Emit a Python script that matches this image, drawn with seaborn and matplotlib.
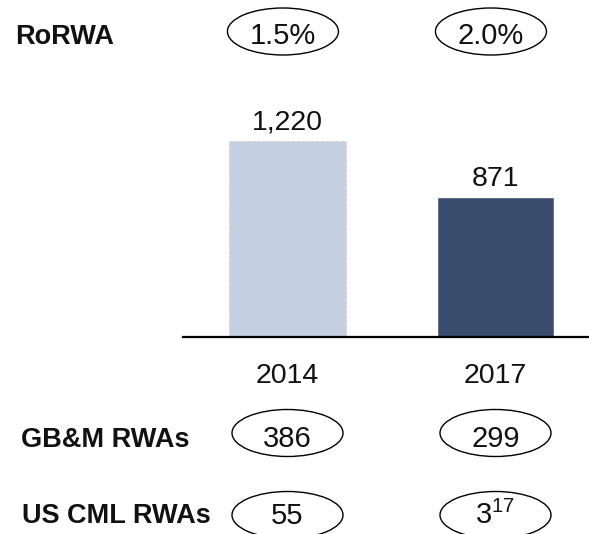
import matplotlib
matplotlib.use('Agg')
import matplotlib.pyplot as plt
import matplotlib.transforms as mtransforms
from matplotlib.patches import Ellipse
import seaborn as sns

# data
years = ['2014', '2017']
rwa_values = [1220, 871]
rorwa = ['1.5%', '2.0%']
gbm_rwas = ['386', '299']
us_cml_rwas = ['55', '3']
us_cml_notes = ['', '17']
row_labels = ['RoRWA', 'GB&M RWAs', 'US CML RWAs']
bar_colors = ['#C4CFE1', '#3A4D6E']

sns.set_theme(style='white')
plt.rcParams['font.family'] = ['Liberation Sans', 'DejaVu Sans']
plt.rcParams['mathtext.default'] = 'regular'

W, H = 589, 534
fig = plt.figure(figsize=(W / 100, H / 100), dpi=100)
fig.patch.set_facecolor('white')

# axes: baseline at y=337px, spans x 183..589px
ax = fig.add_axes([183 / W, (H - 337) / H, (W - 183) / W, 224.9 / H])
sns.barplot(x=years, y=rwa_values, hue=years, palette=bar_colors,
            width=0.5625, legend=False, ax=ax, saturation=1)
ax.set_xlim(-0.5024, 1.4495)
ax.set_ylim(0, 1400)

# faint dashed outline on the light bar
ax.patches[0].set_edgecolor('#d4d4d4')
ax.patches[0].set_linestyle((0, (3, 2)))
ax.patches[0].set_linewidth(0.7)

for i, v in enumerate(rwa_values):
    ax.annotate(f'{v:,}', (i, v), xytext=(0, 8.3), textcoords='offset points',
                ha='center', va='baseline', fontsize=20.5, color='#111111')

for s in ['top', 'right', 'left']:
    ax.spines[s].set_visible(False)
ax.spines['bottom'].set_color('black')
ax.spines['bottom'].set_linewidth(1.6)
ax.set_yticks([])
ax.tick_params(axis='x', length=0, pad=18.5, labelsize=20.5, labelcolor='#111111')
ax.set_xlabel('')
ax.set_ylabel('')

# ellipse rows: x in data coords of the bars, y in figure fraction
blend = mtransforms.blended_transform_factory(ax.transData, fig.transFigure)


def ellipse_row(texts, center_px, base_px, dx=0.0):
    for i, t in enumerate(texts):
        e = Ellipse((i + dx, 1 - center_px / H), 111 / 208, 47 / H,
                    transform=blend, facecolor='none', edgecolor='black',
                    linewidth=1.0, clip_on=False)
        fig.add_artist(e)
        fig.text(0, 0, t, transform=blend, fontsize=21, color='#111111',
                 ha='center', va='baseline').set_position((i + dx, 1 - base_px / H))


ellipse_row(rorwa, 31.5, 44, dx=-0.022)
ellipse_row(gbm_rwas, 433, 447)
notes = [c + (f'$^{{{n}}}$' if n else '') for c, n in zip(us_cml_rwas, us_cml_notes)]
ellipse_row(notes, 515, 524)

# row titles
for lab, base_px, x_px in zip(row_labels, [44, 447, 523], [15, 21, 22]):
    fig.text(x_px / W, 1 - base_px / H, lab, fontsize=19.5, fontweight='bold',
             color='#111111', ha='left', va='baseline')

fig.savefig('out.png', dpi=100, facecolor='white')
